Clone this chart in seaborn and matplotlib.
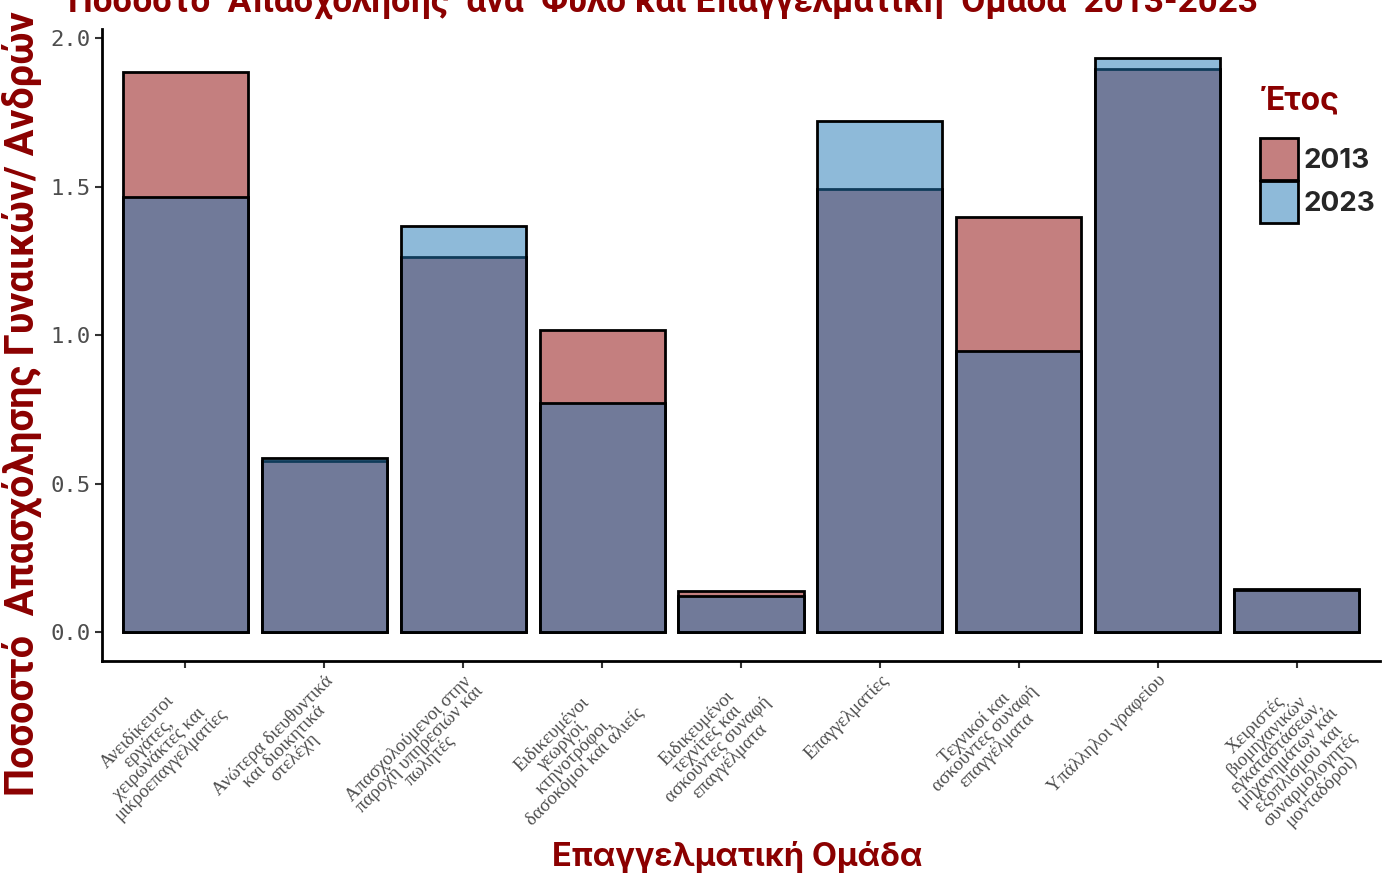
import matplotlib
matplotlib.use("Agg")
import matplotlib.pyplot as plt
import matplotlib.patches as mpatches
import matplotlib.transforms as mtransforms
from matplotlib.colors import to_rgba
import pandas as pd
import seaborn as sns

# occupational groups (x axis), wrapped like the original labels
groups = [
    "Ανειδίκευτοι\nεργάτες,\nχειρωνάκτες και\nμικροεπαγγελματίες",
    "Ανώτερα διευθυντικά\nκαι διοικητικά\nστελέχη",
    "Απασχολούμενοι στην\nπαροχή υπηρεσιών και\nπωλητές",
    "Ειδικευμένοι\nγεωργοί,\nκτηνοτρόφοι,\nδασοκόμοι και αλιείς",
    "Ειδικευμένοι\nτεχνίτες και\nασκούντες συναφή\nεπαγγέλματα",
    "Επαγγελματίες",
    "Τεχνικοί και\nασκούντες συναφή\nεπαγγέλματα",
    "Υπάλληλοι γραφείου",
    "Χειριστές\nβιομηχανικών\nεγκαταστάσεων,\nμηχανημάτων και\nεξοπλισμού και\nσυναρμολογητές\nμονταδόροι)",
]
years = ["2013", "2023"]
ratio_2013 = [1.886, 0.577, 1.262, 1.017, 0.138, 1.490, 1.396, 1.896, 0.145]
ratio_2023 = [1.463, 0.587, 1.366, 0.772, 0.121, 1.721, 0.946, 1.933, 0.143]

DARKRED = "#8B0000"
colors = {"2013": "#8B0000", "2023": "#1f77b4"}

df = pd.DataFrame({
    "group": groups * 2,
    "ratio": ratio_2013 + ratio_2023,
    "year": ["2013"] * len(groups) + ["2023"] * len(groups),
})

sns.set_style("white")
plt.rcParams["font.family"] = ["Roboto", "DejaVu Sans"]

fig = plt.figure(figsize=(13.82, 8.81), dpi=100)
ax = fig.add_axes([102 / 1382, 220 / 881, 1278 / 1382, 632 / 881])

sns.barplot(data=df, x="group", y="ratio", hue="year", hue_order=years,
            palette=colors, dodge=False, width=0.9, saturation=1,
            edgecolor="black", linewidth=2, order=groups, ax=ax)

# half transparent fill, solid outline
for p in ax.patches:
    fc = p.get_facecolor()
    p.set_facecolor((fc[0], fc[1], fc[2], 0.5))
    p.set_edgecolor("black")

ax.set_xlim(-0.6, 8.6)
ax.set_ylim(-0.0967, 2.03)
ax.set_yticks([0.0, 0.5, 1.0, 1.5, 2.0])
ax.set_yticklabels(["0.0", "0.5", "1.0", "1.5", "2.0"],
                   family="DejaVu Sans Mono", fontsize=16, color="#4D4D4D")
ax.set_xticks(range(len(groups)))
ax.set_xticklabels(groups, rotation=45, ha="right", va="top",
                   rotation_mode="anchor", multialignment="center",
                   family="Liberation Serif", fontsize=13.5, color="#4D4D4D",
                   linespacing=0.88)
# nudge rotated labels so their ends sit just right of the ticks
shift = mtransforms.ScaledTranslation(15 / 100, 2 / 100, fig.dpi_scale_trans)
for lbl in ax.get_xticklabels():
    lbl.set_transform(lbl.get_transform() + shift)
ax.tick_params(axis="both", direction="out", length=5, width=1.5,
               color="#333333", bottom=True, left=True, pad=3)

for s in ["top", "right"]:
    ax.spines[s].set_visible(False)
for s in ["left", "bottom"]:
    ax.spines[s].set_linewidth(2)
    ax.spines[s].set_color("black")

ax.set_xlabel("Επαγγελματική Ομάδα", family=["Inter", "Roboto"], fontsize=23.5,
              fontweight="bold", color=DARKRED)
ax.xaxis.set_label_coords(0.497, -0.285)
ax.set_ylabel("Ποσοστό  Απασχόλησης Γυναικών/ Ανδρών",
              family=["Roboto", "DejaVu Sans"], fontsize=28.5,
              fontweight="bold", color=DARKRED)
ax.yaxis.set_label_coords(-0.047, 0.408)

fig.text(68 / 1382, 1 - 12 / 881,
         "Ποσοστό  Απασχόλησης  ανά  Φύλο και Επαγγελματική  Ομάδα  2013-2023",
         family=["Roboto", "DejaVu Sans"], fontsize=25.2,
         fontweight="bold", color=DARKRED, ha="left", va="baseline")

handles = [mpatches.Patch(facecolor=to_rgba(colors[y], 0.5), edgecolor="black",
                          linewidth=2, label=y) for y in years]
leg = ax.legend(handles=handles, title="Έτος", loc="upper left",
                bbox_to_anchor=(1260 / 1382, 1 - 86 / 881),
                bbox_transform=fig.transFigure, frameon=False,
                prop={"family": "Inter", "size": 20, "weight": "bold"},
                handlelength=1.35, handleheight=1.95, labelspacing=0.05,
                handletextpad=0.2, borderaxespad=0, borderpad=0)
leg.get_title().set_fontsize(23)
leg.get_title().set_fontweight("bold")
leg.get_title().set_color(DARKRED)
leg.get_title().set_family(["Inter", "Roboto"])
leg._legend_box.align = "left"
leg._legend_box.sep = 15

fig.savefig("out.png", dpi=100)
